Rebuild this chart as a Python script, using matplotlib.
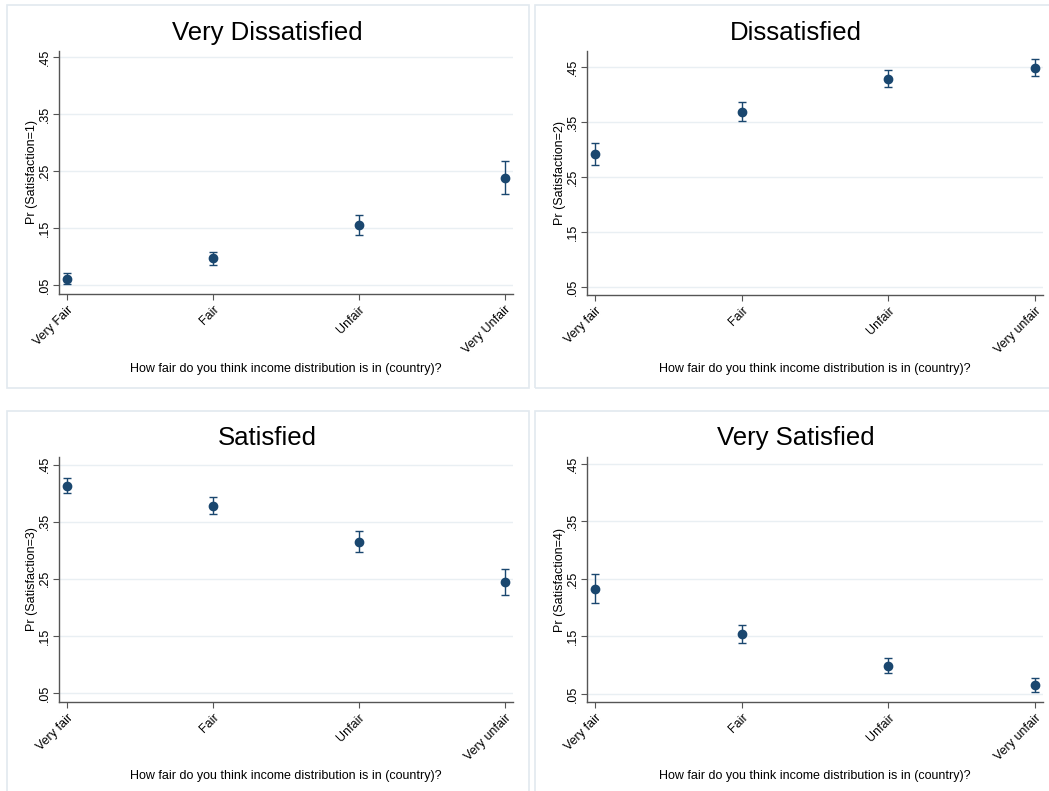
import matplotlib
matplotlib.use("Agg")
import matplotlib.pyplot as plt
from matplotlib.patches import Rectangle

plt.rcParams['font.family'] = ['Liberation Sans', 'DejaVu Sans']

W, H = 1049, 791

# ---- data ----
titles = ["Very Dissatisfied", "Dissatisfied", "Satisfied", "Very Satisfied"]
ylabels = ["Pr (Satisfaction=1)", "Pr (Satisfaction=2)",
           "Pr (Satisfaction=3)", "Pr (Satisfaction=4)"]
cats_upper = ["Very Fair", "Fair", "Unfair", "Very Unfair"]
cats_lower = ["Very fair", "Fair", "Unfair", "Very unfair"]
xlabel = "How fair do you think income distribution is in (country)?"

p_vdis = [0.061, 0.097, 0.155, 0.238]
lo_vdis = [0.052, 0.085, 0.138, 0.210]
hi_vdis = [0.071, 0.108, 0.173, 0.267]

p_dis = [0.292, 0.369, 0.428, 0.449]
lo_dis = [0.271, 0.352, 0.413, 0.434]
hi_dis = [0.312, 0.386, 0.444, 0.465]

p_sat = [0.413, 0.378, 0.315, 0.245]
lo_sat = [0.400, 0.364, 0.297, 0.222]
hi_sat = [0.426, 0.393, 0.333, 0.267]

p_vsat = [0.233, 0.154, 0.099, 0.065]
lo_vsat = [0.208, 0.139, 0.086, 0.053]
hi_vsat = [0.258, 0.170, 0.113, 0.077]

yticks = [0.05, 0.15, 0.25, 0.35, 0.45]
yticklabels = [".05", ".15", ".25", ".35", ".45"]

NAVY = "#1a476f"
GRID = "#e9eff3"
FRAME = "#e2e9ef"

fig = plt.figure(figsize=(W / 100, H / 100), dpi=100)


def px_box(left, top, right, bottom):
    return [left / W, 1 - bottom / H, (right - left) / W, (bottom - top) / H]


# panel frames (pixel boxes)
frames = [(7, 5, 529, 388), (535, 5, 1060, 388),
          (7, 411, 529, 800), (535, 411, 1060, 800)]
for l, t, r, b in frames:
    fig.patches.append(Rectangle((l / W, 1 - b / H), (r - l) / W, (b - t) / H,
                                 transform=fig.transFigure, fill=False,
                                 edgecolor=FRAME, linewidth=1.2))

# axes boxes: left, top, right, bottom, ylim
panels = [
    dict(box=(59, 51, 513, 294), ylim=(0.0342, 0.4605), cats=cats_upper,
         p=p_vdis, lo=lo_vdis, hi=hi_vdis, tx=267, ty=33),
    dict(box=(587, 51, 1043, 295), ylim=(0.0355, 0.479), cats=cats_lower,
         p=p_dis, lo=lo_dis, hi=hi_dis, tx=796, ty=33),
    dict(box=(59, 457, 513, 702), ylim=(0.0342, 0.4633), cats=cats_lower,
         p=p_sat, lo=lo_sat, hi=hi_sat, tx=267, ty=438),
    dict(box=(587, 457, 1043, 702), ylim=(0.0360, 0.4620), cats=cats_lower,
         p=p_vsat, lo=lo_vsat, hi=hi_vsat, tx=796, ty=438),
]

for i, pn in enumerate(panels):
    ax = fig.add_axes(px_box(*pn['box']))
    x = list(range(len(pn['p'])))
    yerr = [[p - l for p, l in zip(pn['p'], pn['lo'])],
            [h - p for p, h in zip(pn['p'], pn['hi'])]]
    ax.errorbar(x, pn['p'], yerr=yerr, fmt='o', color=NAVY, ecolor=NAVY,
                markersize=6, elinewidth=1.0, capsize=3, capthick=1.0,
                zorder=3)
    ax.set_xlim(-0.055, 3.055)
    ax.set_ylim(*pn['ylim'])
    ax.set_yticks(yticks)
    ax.set_yticklabels(yticklabels, rotation=90, va='center')
    ax.set_xticks(x)
    ax.set_xticklabels(pn['cats'], rotation=45, ha='right',
                       rotation_mode='anchor')
    ax.tick_params(axis='both', labelsize=9, length=4, width=0.8,
                   color='#555555', pad=3)
    ax.tick_params(axis='y', pad=2)
    ax.grid(axis='y', color=GRID, linewidth=1.0, zorder=0)
    ax.set_axisbelow(True)
    for s in ['top', 'right']:
        ax.spines[s].set_visible(False)
    for s in ['left', 'bottom']:
        ax.spines[s].set_color('#555555')
        ax.spines[s].set_linewidth(1.0)
    ax.set_ylabel(ylabels[i], fontsize=9, labelpad=0.5)
    ax.set_xlabel(xlabel, fontsize=9, labelpad=5)
    fig.text(pn['tx'] / W, 1 - pn['ty'] / H, titles[i], fontsize=18.5,
             ha='center', va='center')

fig.savefig("out.png", dpi=100, facecolor='white')
